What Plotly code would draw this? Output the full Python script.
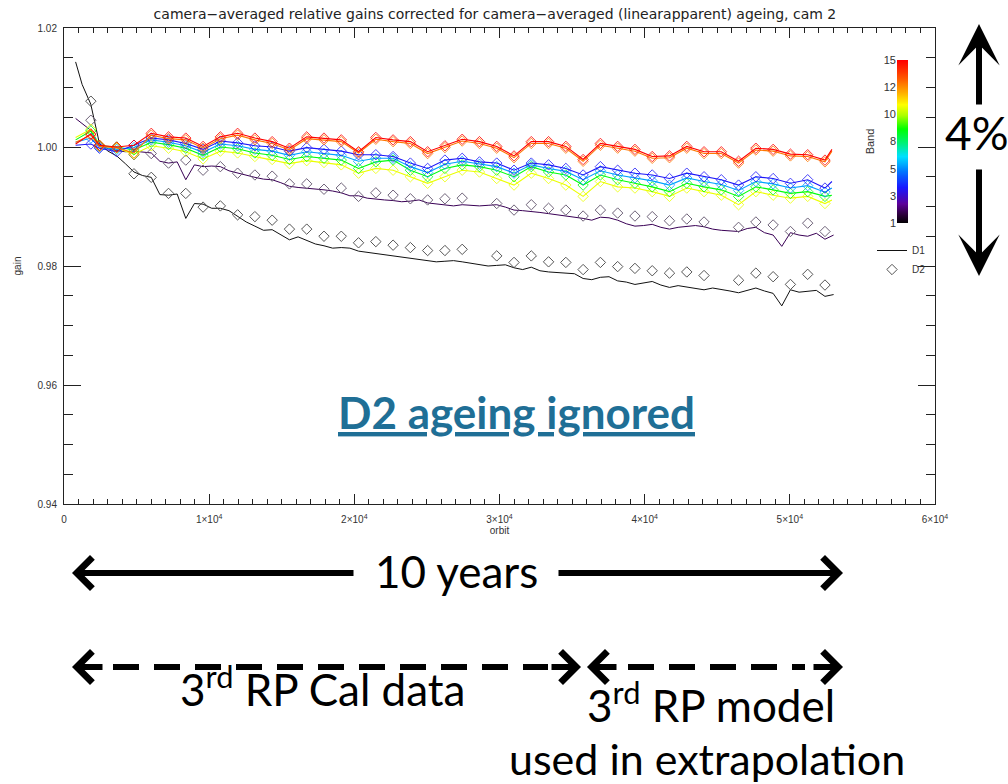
import plotly.graph_objects as go
from plotly.colors import sample_colorscale

# ---------------- data ----------------
# fine orbit grid used for the D1 curves of bands 1 and 2
ORBIT_FINE = [800, 1250, 1845, 2440, 3035, 3630, 4225, 4820, 5415, 6010, 6605, 7200, 7795,
              8390, 8985, 9580, 10175, 10770, 11365, 11960, 12555, 13150, 13745, 14340,
              14935, 15530, 16125, 16720, 17315, 17910, 18505, 19100, 19695, 20290, 20885,
              21480, 22075, 22670, 23265, 23860, 24455, 25050, 25645, 26240, 26835, 27430,
              28025, 28620, 29215, 29810, 30405, 31000, 31595, 32190, 32785, 33380, 33975,
              34570, 35165, 35760, 36355, 36950, 37545, 38140, 38735, 39330, 39925, 40520,
              41115, 41710, 42305, 42900, 43495, 44090, 44685, 45280, 45875, 46470, 47065,
              47660, 48255, 48850, 49445, 50040, 50635, 51230, 51825, 52420, 53015]

# orbits of the D2 (diamond) measurements
ORBIT_D2 = [1850, 2440, 3630, 4820, 6010, 7200, 8390, 9580, 10770, 11960, 13150, 14340,
            15530, 16720, 17910, 19100, 20290, 21480, 22670, 23860, 25050, 26240, 27430,
            28620, 29810, 31000, 32190, 33380, 34570, 35760, 36950, 38140, 39330, 40520,
            41710, 42900, 44090, 45280, 46470, 47660, 48850, 50040, 51230, 52420]

# coarse orbit grid for the D1 curves of the other bands
ORBIT_COARSE = [800] + ORBIT_D2 + [52900]

band1_d1 = [1.0143, 1.0105, 1.0072, 1.0006, 0.9993, 0.9985, 0.9972, 0.9958, 0.9952, 0.9949,
            0.9920, 0.9919, 0.9921, 0.9880, 0.9905, 0.9904, 0.9897, 0.9897, 0.9893, 0.9883,
            0.9874, 0.9867, 0.9860, 0.9861, 0.9852, 0.9844, 0.9849, 0.9843, 0.9837, 0.9834,
            0.9830, 0.9831, 0.9830, 0.9825, 0.9823, 0.9821, 0.9819, 0.9816, 0.9815, 0.9813,
            0.9811, 0.9809, 0.9807, 0.9808, 0.9809, 0.9807, 0.9805, 0.9803, 0.9800, 0.9801,
            0.9802, 0.9797, 0.9794, 0.9798, 0.9792, 0.9790, 0.9789, 0.9789, 0.9787, 0.9779,
            0.9777, 0.9781, 0.9782, 0.9775, 0.9773, 0.9769, 0.9771, 0.9774, 0.9768, 0.9764,
            0.9767, 0.9765, 0.9762, 0.9760, 0.9763, 0.9761, 0.9758, 0.9755, 0.9759, 0.9763,
            0.9758, 0.9754, 0.9733, 0.9760, 0.9756, 0.9757, 0.9759, 0.9749, 0.9752]

band1_d2 = [1.0077, None, None, 0.9955, 0.9949, 0.9922, 0.9922, 0.9899, 0.9901, 0.9886,
            0.9883, 0.9877, 0.9862, 0.9862, 0.9850, 0.9850, 0.9839, 0.9841, 0.9835, 0.9831,
            0.9826, 0.9826, 0.9828, None, 0.9817, 0.9806, 0.9817, 0.9807, 0.9806, 0.9794,
            0.9806, 0.9799, 0.9796, 0.9792, 0.9788, 0.9790, 0.9784, None, 0.9776, 0.9788,
            0.9782, 0.9769, 0.9786, 0.9768]

band2_d1 = [1.0048, 1.0040, 1.0028, 1.0004, 0.9997, 0.9994, 0.9992, 0.9993, 0.9991, 0.9990,
            0.9976, 0.9973, 0.9975, 0.9945, 0.9970, 0.9967, 0.9968, 0.9967, 0.9960, 0.9956,
            0.9953, 0.9949, 0.9946, 0.9945, 0.9940, 0.9934, 0.9932, 0.9931, 0.9930, 0.9928,
            0.9926, 0.9923, 0.9918, 0.9918, 0.9914, 0.9912, 0.9911, 0.9910, 0.9908, 0.9909,
            0.9911, 0.9906, 0.9904, 0.9902, 0.9901, 0.9903, 0.9902, 0.9901, 0.9902, 0.9903,
            0.9899, 0.9894, 0.9893, 0.9892, 0.9890, 0.9888, 0.9886, 0.9885, 0.9883, 0.9880,
            0.9877, 0.9882, 0.9881, 0.9877, 0.9871, 0.9867, 0.9868, 0.9870, 0.9865, 0.9862,
            0.9865, 0.9866, 0.9868, 0.9866, 0.9862, 0.9860, 0.9859, 0.9858, 0.9863, 0.9865,
            0.9856, 0.9852, 0.9833, 0.9856, 0.9852, 0.9850, 0.9855, 0.9845, 0.9852]

band2_d2 = [1.0045, None, None, 0.9987, 0.9989, 0.9973, 0.9978, 0.9961, 0.9967, 0.9956,
            0.9953, 0.9951, 0.9938, 0.9938, 0.9929, 0.9931, 0.9917, 0.9923, 0.9919, 0.9913,
            0.9911, 0.9913, 0.9914, None, 0.9905, 0.9894, 0.9903, 0.9897, 0.9894, 0.9884,
            0.9894, 0.9889, 0.9884, 0.9883, 0.9876, 0.9879, 0.9874, None, 0.9865, 0.9874,
            0.9869, 0.9858, 0.9872, 0.9858]

# bands 4..15 (D1 on ORBIT_COARSE; D2 values coincide with D1 at ORBIT_D2)
band4 = [1.0003, 1.0005, 0.9998, 0.9992, 1.0003, 1.0015, 1.0012, 1.0006, 0.9996, 1.0010,
         1.0007, 1.0002, 1.0000, 0.9993, 0.9999, 0.9996, 0.9993, 0.9987, 0.9987, 0.9984,
         0.9973, 0.9964, 0.9978, 0.9981, 0.9975, 0.9973, 0.9961, 0.9973, 0.9970, 0.9964,
         0.9953, 0.9967, 0.9961, 0.9956, 0.9953, 0.9947, 0.9956, 0.9950, 0.9945, 0.9936,
         0.9950, 0.9947, 0.9939, 0.9945, 0.9931, 0.9942]
band6 = [1.0008, 1.0015, 1.0000, 0.9996, 0.9999, 1.0012, 1.0008, 1.0002, 0.9991, 1.0005,
         1.0002, 0.9996, 0.9993, 0.9986, 0.9992, 0.9989, 0.9986, 0.9976, 0.9981, 0.9981,
         0.9967, 0.9957, 0.9971, 0.9976, 0.9971, 0.9967, 0.9956, 0.9970, 0.9964, 0.9959,
         0.9945, 0.9960, 0.9953, 0.9948, 0.9943, 0.9936, 0.9948, 0.9942, 0.9937, 0.9927,
         0.9942, 0.9938, 0.9931, 0.9935, 0.9924, 0.9931]
band9 = [1.0012, 1.0027, 1.0002, 1.0000, 0.9995, 1.0008, 1.0004, 0.9998, 0.9986, 1.0000,
         0.9997, 0.9990, 0.9986, 0.9979, 0.9984, 0.9981, 0.9978, 0.9964, 0.9975, 0.9978,
         0.9961, 0.9950, 0.9964, 0.9970, 0.9967, 0.9961, 0.9950, 0.9967, 0.9958, 0.9953,
         0.9936, 0.9953, 0.9945, 0.9939, 0.9933, 0.9925, 0.9939, 0.9933, 0.9928, 0.9917,
         0.9933, 0.9928, 0.9922, 0.9925, 0.9917, 0.9919]
band11 = [1.0016, 1.0030, 1.0003, 0.9998, 0.9988, 1.0002, 0.9998, 0.9992, 0.9980, 0.9993,
          0.9990, 0.9984, 0.9979, 0.9972, 0.9977, 0.9974, 0.9970, 0.9956, 0.9964, 0.9961,
          0.9950, 0.9939, 0.9950, 0.9961, 0.9958, 0.9947, 0.9936, 0.9956, 0.9947, 0.9936,
          0.9917, 0.9942, 0.9933, 0.9931, 0.9925, 0.9917, 0.9931, 0.9925, 0.9919, 0.9903,
          0.9925, 0.9919, 0.9914, 0.9917, 0.9905, 0.9911]
band13 = [1.0008, 1.0020, 1.0001, 0.9999, 0.9990, 1.0020, 1.0014, 1.0012, 0.9998, 1.0014,
          1.0020, 1.0012, 1.0006, 0.9995, 1.0014, 1.0012, 1.0009, 0.9990, 1.0013, 1.0009,
          1.0006, 0.9989, 0.9999, 1.0010, 1.0006, 0.9998, 0.9982, 1.0006, 1.0006, 0.9998,
          0.9976, 1.0003, 0.9998, 0.9993, 0.9981, 0.9982, 0.9998, 0.9989, 0.9989, 0.9973,
          0.9995, 0.9993, 0.9985, 0.9984, 0.9975, 0.9993]
band15 = [1.0005, 1.0022, 1.0003, 1.0000, 1.0003, 1.0023, 1.0017, 1.0015, 1.0001, 1.0017,
          1.0023, 1.0015, 1.0009, 0.9998, 1.0017, 1.0015, 1.0012, 0.9992, 1.0016, 1.0012,
          1.0009, 0.9992, 1.0002, 1.0013, 1.0009, 1.0001, 0.9985, 1.0009, 1.0009, 1.0001,
          0.9979, 1.0006, 1.0001, 0.9996, 0.9984, 0.9985, 1.0001, 0.9992, 0.9992, 0.9976,
          0.9998, 0.9996, 0.9988, 0.9987, 0.9978, 0.9996]

BANDS = [1, 2, 3, 4, 5, 6, 7, 8, 9, 10, 11, 12, 13, 14, 15]
BAND_TICKS = [1, 3.333, 5.667, 8, 10.333, 12.667, 15]
BAND_TICKTEXT = ["1", "3", "5", "8", "10", "12", "15"]

X_TICKS = [0, 10000, 20000, 30000, 40000, 50000, 60000]
X_TICKTEXT = ["0", "1×10<sup>4</sup>", "2×10<sup>4</sup>", "3×10<sup>4</sup>",
              "4×10<sup>4</sup>", "5×10<sup>4</sup>", "6×10<sup>4</sup>"]

TITLE = "camera−averaged relative gains corrected for camera−averaged (linearapparent) ageing, cam 2"

RAINBOW = [[0.00, "#000000"], [0.05, "#2a0038"], [0.12, "#5c0098"], [0.22, "#1818ff"],
           [0.32, "#0078ff"], [0.41, "#00e0ff"], [0.49, "#00f080"], [0.58, "#00ff00"],
           [0.66, "#a8ff00"], [0.73, "#ffff00"], [0.80, "#ffb000"], [0.88, "#ff6000"],
           [1.00, "#ff0000"]]

# ---------------- layout helpers ----------------
W, H = 1008, 784
L, R, T, B = 64, 935, 28, 504


def px(x):
    return (x - L) / (R - L)


def py(y):
    return (B - y) / (B - T)


def band_color(b):
    return sample_colorscale(RAINBOW, [(b - 1) / 14])[0]


DSIZE = 8
fig = go.Figure()

# band 1 (D1 line + D2 diamonds) -> also legend entries
fig.add_trace(go.Scatter(x=ORBIT_FINE, y=band1_d1, mode="lines", name="D1",
                         line=dict(color="#111111", width=1), showlegend=True))
fig.add_trace(go.Scatter(x=ORBIT_D2, y=band1_d2, mode="markers", name="D2",
                         marker=dict(symbol="diamond-open", size=DSIZE,
                                     line=dict(color="#555555", width=1), color="#555555"),
                         showlegend=True))
# band 2
c2 = band_color(2)
fig.add_trace(go.Scatter(x=ORBIT_FINE, y=band2_d1, mode="lines", line=dict(color=c2, width=1),
                         showlegend=False))
fig.add_trace(go.Scatter(x=ORBIT_D2, y=band2_d2, mode="markers",
                         marker=dict(symbol="diamond-open", size=DSIZE, color="#6e6278",
                                     line=dict(color="#6e6278", width=1)),
                         showlegend=False))

for b, vals in [(11, band11), (9, band9), (6, band6), (4, band4), (13, band13), (15, band15)]:
    c = band_color(b)
    fig.add_trace(go.Scatter(x=ORBIT_COARSE, y=vals, mode="lines",
                             line=dict(color=c, width=1.1), showlegend=False))
    fig.add_trace(go.Scatter(x=ORBIT_D2, y=vals[1:-1], mode="markers",
                             marker=dict(symbol="diamond-open", size=DSIZE, color=c,
                                         line=dict(color=c, width=1), opacity=0.8),
                             showlegend=False))

# colour bar drawn as a smooth heat-map strip
fig.add_trace(go.Heatmap(z=[[b, b] for b in BANDS], x=[0, 1], y=BANDS, colorscale=RAINBOW,
                         zmin=1, zmax=15, zsmooth="best", showscale=False,
                         xaxis="x2", yaxis="y2", hoverinfo="skip"))

axis_font = dict(family="Liberation Sans, Arial, sans-serif", size=10, color="#333333")

fig.update_layout(
    width=W, height=H, autosize=False,
    margin=dict(l=L, r=W - R, t=T, b=H - B, pad=0),
    paper_bgcolor="white", plot_bgcolor="white",
    title=dict(text=TITLE, x=0.491, xanchor="center", y=1 - 14 / H, yanchor="middle",
               font=dict(family="DejaVu Sans", size=14, color="#222222")),
    xaxis=dict(range=[0, 60000], tickvals=X_TICKS, ticktext=X_TICKTEXT, ticks="inside",
               ticklen=10, tickcolor="#222", tickwidth=1, showline=True, linecolor="#222",
               linewidth=1, mirror="ticks", showgrid=False, zeroline=False,
               minor=dict(dtick=1000, ticklen=5, ticks="inside", tickcolor="#222", showgrid=False),
               tickfont=axis_font, ticklabelstandoff=6,
               title=dict(text="orbit", font=axis_font, standoff=2)),
    yaxis=dict(range=[0.94, 1.02], dtick=0.02, tickformat=".2f", ticks="inside",
               ticklen=17, tickcolor="#222", tickwidth=1, showline=True, linecolor="#222",
               linewidth=1, mirror="ticks", showgrid=False, zeroline=False,
               minor=dict(dtick=0.005, ticklen=9, ticks="inside", tickcolor="#222", showgrid=False),
               tickfont=axis_font, ticklabelstandoff=4,
               title=dict(text="gain", font=axis_font, standoff=14)),
    xaxis2=dict(domain=[px(897), px(908)], anchor="y2", range=[0, 1], visible=False,
                fixedrange=True),
    yaxis2=dict(domain=[py(223), py(60)], anchor="x2", range=[1, 15], side="left",
                tickvals=BAND_TICKS, ticktext=BAND_TICKTEXT, ticks="", showline=False,
                showgrid=False, zeroline=False, tickfont=dict(family="Liberation Sans", size=11,
                                                               color="#333"),
                title=dict(text="Band", font=dict(family="Liberation Sans", size=11, color="#333"),
                           standoff=6)),
    legend=dict(x=px(872), y=py(236), xanchor="left", yanchor="top", bgcolor="rgba(0,0,0,0)",
                font=dict(family="Liberation Sans", size=10, color="#333"), itemwidth=30,
                tracegroupgap=0),
)

BIG = "Lato, Open Sans, sans-serif"
ann = []


def text(t, x, y, size=44, color="black", bold=False):
    ann.append(dict(text=t, x=px(x), y=py(y), xref="paper", yref="paper", showarrow=False,
                    xanchor="center", yanchor="middle",
                    font=dict(family=BIG, size=size, color=color,
                              weight="bold" if bold else "normal")))


def arrow(tip, tail, head, width=6, size=1.0):
    ann.append(dict(text="", x=px(tip[0]), y=py(tip[1]), xref="paper", yref="paper",
                    ax=tail[0] - tip[0], ay=tail[1] - tip[1], axref="pixel", ayref="pixel",
                    showarrow=True, arrowhead=head, arrowwidth=width, arrowsize=size,
                    arrowcolor="black", standoff=0, startstandoff=0))


text("<u>D2 ageing ignored</u>", 516, 412, size=44, color="#1f6f96", bold=True)
text("4%", 977, 132, size=46)
text("10 years", 456, 571)
text("3<sup>rd</sup> RP model", 711, 702)
text("3<sup>rd</sup> RP Cal data", 322, 686)
text("used in extrapolation", 707, 758, size=43)

# 4% arrows
arrow((979, 24), (979, 106), 3, width=6, size=1.15)
arrow((979, 276), (979, 168), 3, width=6, size=1.15)
# 10 years arrows
arrow((72, 573), (355, 573), 4)
arrow((843, 573), (557, 573), 4)
# dashed arrows heads
arrow((72, 667), (104, 667), 4)
arrow((581, 667), (550, 667), 4)
arrow((587, 667), (618, 667), 4)
arrow((843, 667), (812, 667), 4)

shapes = [
    dict(type="line", xref="paper", yref="paper", x0=px(113), x1=px(548), y0=py(667), y1=py(667),
         line=dict(color="black", width=6, dash="26px,15px")),
    dict(type="line", xref="paper", yref="paper", x0=px(628), x1=px(805), y0=py(667), y1=py(667),
         line=dict(color="black", width=6, dash="26px,15px")),
]

fig.update_layout(annotations=ann, shapes=shapes)

fig.write_html("out.html")
